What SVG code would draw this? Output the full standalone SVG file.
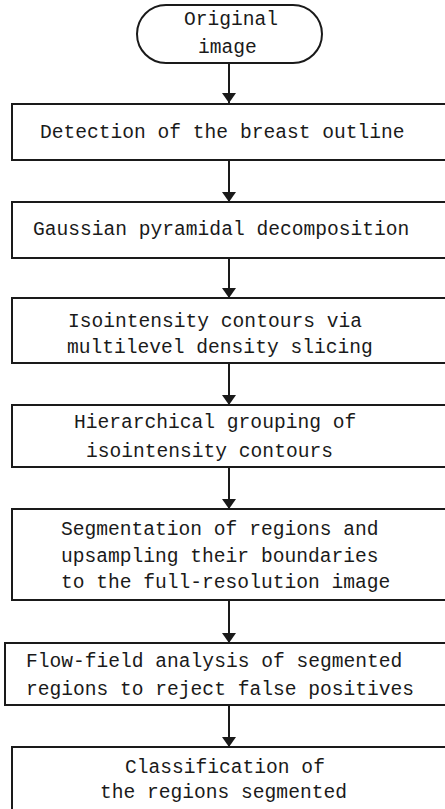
<svg xmlns="http://www.w3.org/2000/svg" width="445" height="809" viewBox="0 0 445 809">
  <style>
    .box { fill: #ffffff; stroke: #1a1a1a; stroke-width: 2; }
    .lbl { font-family: "Liberation Mono", "DejaVu Sans Mono", monospace; font-size: 19.6px; fill: #1a1a1a; }
    .edge { stroke: #1a1a1a; stroke-width: 2; fill: none; marker-end: url(#arrow); }
  </style>
  <defs>
    <marker id="arrow" viewBox="0 0 10 14" refX="10" refY="7" markerWidth="10" markerHeight="14" markerUnits="userSpaceOnUse" orient="auto">
      <path d="M0,0 L10,7 L0,14 Z" fill="#1a1a1a"/>
    </marker>
  </defs>
  <rect width="445" height="809" fill="#ffffff"/>

  <g id="connectors">
    <line class="edge" x1="229" y1="63" x2="229" y2="103"/>
    <line class="edge" x1="229" y1="160" x2="229" y2="202"/>
    <line class="edge" x1="229" y1="258" x2="229" y2="298"/>
    <line class="edge" x1="229" y1="363" x2="229" y2="405"/>
    <line class="edge" x1="229" y1="467" x2="229" y2="509"/>
    <line class="edge" x1="229" y1="600" x2="229" y2="643"/>
    <line class="edge" x1="229" y1="705" x2="229" y2="747"/>
  </g>

  <g id="start">
    <rect class="box" x="137" y="5" width="185" height="58" rx="29" ry="29"/>
    <text class="lbl" x="184" y="25">Original</text>
    <text class="lbl" x="198" y="53">image</text>
  </g>

  <g id="outline">
    <rect class="box" x="12" y="104" width="450" height="56"/>
    <text class="lbl" x="40" y="138">Detection of the breast outline</text>
  </g>

  <g id="pyramid">
    <rect class="box" x="12" y="202" width="450" height="56"/>
    <text class="lbl" x="33" y="235">Gaussian pyramidal decomposition</text>
  </g>

  <g id="slicing">
    <rect class="box" x="12" y="298" width="450" height="65"/>
    <text class="lbl" x="68" y="327">Isointensity contours via</text>
    <text class="lbl" x="67" y="353">multilevel density slicing</text>
  </g>

  <g id="grouping">
    <rect class="box" x="12" y="405" width="450" height="62"/>
    <text class="lbl" x="74" y="428">Hierarchical grouping of</text>
    <text class="lbl" x="86" y="457">isointensity contours</text>
  </g>

  <g id="segmentation">
    <rect class="box" x="12" y="509" width="450" height="91"/>
    <text class="lbl" x="61" y="535">Segmentation of regions and</text>
    <text class="lbl" x="61" y="562">upsampling their boundaries</text>
    <text class="lbl" x="61" y="588">to the full-resolution image</text>
  </g>

  <g id="flowfield">
    <rect class="box" x="5" y="643" width="450" height="62"/>
    <text class="lbl" x="26" y="667">Flow-field analysis of segmented</text>
    <text class="lbl" x="26" y="695">regions to reject false positives</text>
  </g>

  <g id="classification">
    <rect class="box" x="12" y="747" width="450" height="90"/>
    <text class="lbl" x="125" y="773">Classification of</text>
    <text class="lbl" x="100" y="798">the regions segmented</text>
  </g>
</svg>
